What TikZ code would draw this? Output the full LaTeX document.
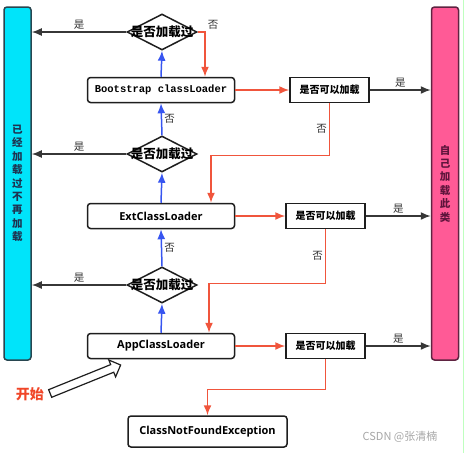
\documentclass[tikz,border=0pt]{standalone}
\usepackage{fontspec}
\usepackage{xcolor}
\usetikzlibrary{shapes,arrows,arrows.meta,positioning}
\setmainfont{Open Sans}
\newfontfamily\cjk{Noto Sans CJK SC}
\newfontfamily\monofnt{Liberation Mono}
\definecolor{barcyan}{RGB}{0,228,250}
\definecolor{barpink}{RGB}{255,90,150}
\definecolor{cyanline}{RGB}{40,70,80}
\definecolor{pinkline}{RGB}{95,35,65}
\definecolor{cyantext}{RGB}{30,50,80}
\definecolor{pinktext}{RGB}{95,20,60}
\definecolor{boxline}{RGB}{30,30,30}
\definecolor{arrred}{RGB}{240,85,60}
\definecolor{arrblue}{RGB}{55,85,240}
\definecolor{arrdark}{RGB}{55,55,55}
\definecolor{startred}{RGB}{240,70,40}
\tikzstyle{line} = [draw, line width=1.5pt, -{Latex[length=10pt,width=8pt]}]
\newcommand{\dtext}[1]{\makebox[0pt]{#1}}

\begin{document}
\begin{tikzpicture}[x=1pt, y=-1pt,
    loader/.style={rectangle, draw=boxline, line width=1.5pt, rounded corners=3pt, fill=white, minimum width=147, minimum height=25, inner sep=0pt, font=\bfseries\fontsize{11}{12}\selectfont},
    check/.style={rectangle, draw=boxline, line width=1.5pt, fill=white, minimum width=79, minimum height=25, inner sep=0pt, font=\cjk\bfseries\fontsize{10}{12}\selectfont},
    decide/.style={diamond, draw=boxline, line width=1.5pt, fill=white, minimum width=70, minimum height=36, inner sep=0pt, font=\cjk\bfseries\fontsize{12.5}{13}\selectfont},
    bar/.style={rectangle, line width=1.5pt, rounded corners=3pt, minimum width=27, minimum height=353, inner sep=0pt, align=center, font=\cjk\bfseries\fontsize{10.5}{13.4}\selectfont},
    tag/.style={font=\cjk\fontsize{10.5}{11}\selectfont, text=black!80, inner sep=2pt}]
    \useasboundingbox (0,0) rectangle (465,453);
    \draw[green!25, line width=1.5pt] (463.5,0) -- (463.5,453);

    \node[bar, draw=cyanline, fill=barcyan, text=cyantext] (Done) at (17.5,183.5) {已\\经\\加\\载\\过\\不\\再\\加\\载};
    \node[bar, draw=pinkline, fill=barpink, text=pinktext] (Self) at (445,183.5) {自\\己\\加\\载\\此\\类};

    \node[decide] (Dia1) at (162,32) {\dtext{是否加载过}};
    \node[loader, font=\monofnt\bfseries\fontsize{10.5}{12}\selectfont] (Boot) at (161,90) {Bootstrap classLoader};
    \node[check] (Chk1) at (329.5,90) {是否可以加载};
    \node[decide] (Dia2) at (162,154) {\dtext{是否加载过}};
    \node[loader] (Ext) at (161,216) {ExtClassLoader};
    \node[check] (Chk2) at (325.5,216) {是否可以加载};
    \node[decide] (Dia3) at (162,285) {\dtext{是否加载过}};
    \node[loader] (App) at (161,346) {AppClassLoader};
    \node[check] (Chk3) at (325.5,346) {是否可以加载};
    \node[loader, minimum width=159, minimum height=31] (NotFound) at (207.5,431.5) {ClassNotFoundException};

    \node[font=\cjk\bfseries\fontsize{14}{14}\selectfont, text=startred] (Start) at (30,394) {开始};
    \node[single arrow, draw=boxline, line width=1.2pt, fill=white, minimum height=76, minimum width=17, single arrow head extend=5pt, single arrow head indent=0pt, inner sep=3.5pt, rotate=22] (Go) at (83.5,380) {};
    \node[font=\cjk\fontsize{11}{12}\selectfont, text=black!35] (Mark) at (400,437) {CSDN @张清楠};

    \path[line, draw=arrdark] (Dia1.west) -- node[tag, above] {是} (Dia1.west -| Done.east);
    \path[line, draw=arrdark] (Dia2.west) -- node[tag, above] {是} (Dia2.west -| Done.east);
    \path[line, draw=arrdark] (Dia3.west) -- node[tag, above] {是} (Dia3.west -| Done.east);
    \path[line, draw=arrdark] (Chk1.east) -- node[tag, above] {是} (Chk1.east -| Self.west);
    \path[line, draw=arrdark] (Chk2.east) -- node[tag, above] {是} (Chk2.east -| Self.west);
    \path[line, draw=arrdark] (Chk3.east) -- node[tag, above] {是} (Chk3.east -| Self.west);

    \path[line, draw=arrblue] (Boot.north) -- (Dia1.south);
    \path[line, draw=arrblue] (Dia2.north) -- node[tag, right] {否} (Boot.south);
    \path[line, draw=arrblue] (Ext.north) -- (Dia2.south);
    \path[line, draw=arrblue] (Dia3.north) -- node[tag, right] {否} (Ext.south);
    \path[line, draw=arrblue] (App.north) -- (Dia3.south);

    \path[line, draw=arrred] (Dia1.east) -| node[tag, above right] {否} ([xshift=44]Boot.north);
    \path[line, draw=arrred] (Boot.east) -- (Chk1.west);
    \path[line, draw=arrred] (Chk1.south) -- node[tag, left] {否} ++(0,52) -| ([xshift=50]Ext.north);
    \path[line, draw=arrred] (Ext.east) -- (Chk2.west);
    \path[line, draw=arrred] (Chk2.south) -- node[tag, left] {否} ++(0,54) -| ([xshift=48]App.north);
    \path[line, draw=arrred] (App.east) -- (Chk3.west);
    \path[line, draw=arrred] (Chk3.south) -- ++(0,30) -| (NotFound.north);
\end{tikzpicture}
\end{document}
